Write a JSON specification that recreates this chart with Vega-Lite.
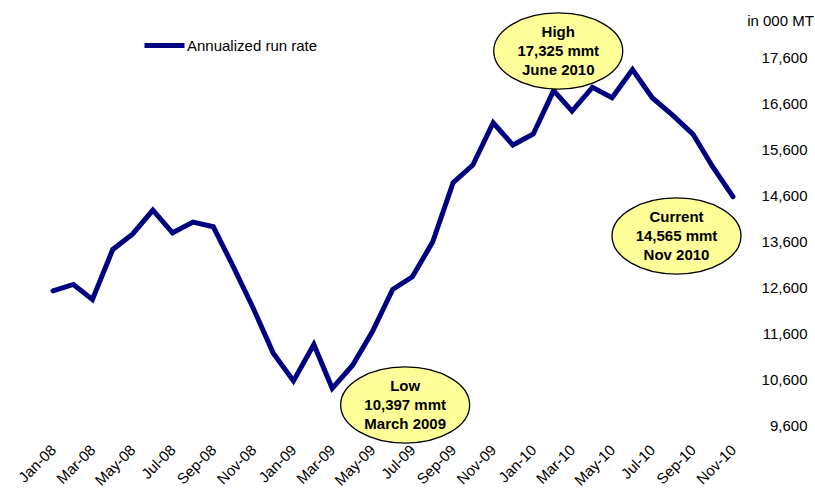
{
  "$schema": "https://vega.github.io/schema/vega-lite/v6.json",
  "autosize": {"type": "none"},
  "width": 680,
  "height": 368,
  "padding": {"left": 53, "top": 57, "right": 82, "bottom": 66},
  "background": "white",
  "config": {
    "view": {"stroke": null},
    "font": "Liberation Sans",
    "axis": {"labelFont": "Liberation Sans", "titleFont": "Liberation Sans", "labelColor": "#000", "titleColor": "#000", "grid": false, "domain": false, "ticks": false, "tickSize": 0},
    "legend": {"labelFont": "Liberation Sans", "labelColor": "#000"}
  },
  "resolve": {"axis": {"x": "independent", "y": "independent"}},
  "datasets": {
    "series": [
      {"date": "2008-01-01", "value": 12516},
      {"date": "2008-02-01", "value": 12655},
      {"date": "2008-03-01", "value": 12329},
      {"date": "2008-04-01", "value": 13417},
      {"date": "2008-05-01", "value": 13750},
      {"date": "2008-06-01", "value": 14272},
      {"date": "2008-07-01", "value": 13778},
      {"date": "2008-08-01", "value": 14011},
      {"date": "2008-09-01", "value": 13909},
      {"date": "2008-10-01", "value": 13054},
      {"date": "2008-11-01", "value": 12133},
      {"date": "2008-12-01", "value": 11168},
      {"date": "2009-01-01", "value": 10559},
      {"date": "2009-02-01", "value": 11350},
      {"date": "2009-03-01", "value": 10397},
      {"date": "2009-04-01", "value": 10900},
      {"date": "2009-05-01", "value": 11624},
      {"date": "2009-06-01", "value": 12547},
      {"date": "2009-07-01", "value": 12821},
      {"date": "2009-08-01", "value": 13582},
      {"date": "2009-09-01", "value": 14866},
      {"date": "2009-10-01", "value": 15251},
      {"date": "2009-11-01", "value": 16171},
      {"date": "2009-12-01", "value": 15686},
      {"date": "2010-01-01", "value": 15925},
      {"date": "2010-02-01", "value": 16870},
      {"date": "2010-03-01", "value": 16425},
      {"date": "2010-04-01", "value": 16940},
      {"date": "2010-05-01", "value": 16715},
      {"date": "2010-06-01", "value": 17325},
      {"date": "2010-07-01", "value": 16715},
      {"date": "2010-08-01", "value": 16338},
      {"date": "2010-09-01", "value": 15925},
      {"date": "2010-10-01", "value": 15214},
      {"date": "2010-11-01", "value": 14565}
    ],
    "notes": [
      {"date": "2010-02-08", "value": 17730, "label": "High\n17,325 mmt\nJune 2010"},
      {"date": "2009-06-20", "value": 10035, "label": "Low\n10,397 mmt\nMarch 2009"},
      {"date": "2010-08-07", "value": 13709, "label": "Current\n14,565 mmt\nNov 2010"}
    ]
  },
  "layer": [
    {
      "data": {"name": "series"},
      "transform": [{"calculate": "'Annualized run rate'", "as": "series"}],
      "mark": {"type": "line", "strokeWidth": 5, "strokeCap": "round", "strokeJoin": "miter"},
      "encoding": {
        "x": {
          "field": "date", "type": "temporal",
          "scale": {"type": "utc", "nice": false, "domain": [{"year": 2008, "month": 1, "date": 1, "utc": true}, {"year": 2010, "month": 11, "date": 1, "utc": true}]},
          "axis": {
            "title": null,
            "values": [
              {"year": 2008, "month": 1, "date": 1, "utc": true},
              {"year": 2008, "month": 3, "date": 1, "utc": true},
              {"year": 2008, "month": 5, "date": 1, "utc": true},
              {"year": 2008, "month": 7, "date": 1, "utc": true},
              {"year": 2008, "month": 9, "date": 1, "utc": true},
              {"year": 2008, "month": 11, "date": 1, "utc": true},
              {"year": 2009, "month": 1, "date": 1, "utc": true},
              {"year": 2009, "month": 3, "date": 1, "utc": true},
              {"year": 2009, "month": 5, "date": 1, "utc": true},
              {"year": 2009, "month": 7, "date": 1, "utc": true},
              {"year": 2009, "month": 9, "date": 1, "utc": true},
              {"year": 2009, "month": 11, "date": 1, "utc": true},
              {"year": 2010, "month": 1, "date": 1, "utc": true},
              {"year": 2010, "month": 3, "date": 1, "utc": true},
              {"year": 2010, "month": 5, "date": 1, "utc": true},
              {"year": 2010, "month": 7, "date": 1, "utc": true},
              {"year": 2010, "month": 9, "date": 1, "utc": true},
              {"year": 2010, "month": 11, "date": 1, "utc": true}
            ],
            "format": "%b-%y",
            "labelAngle": -45, "labelAlign": "right", "labelBaseline": "middle",
            "labelPadding": 22, "labelFontSize": 15, "labelFlush": false, "labelOverlap": false
          }
        },
        "y": {
          "field": "value", "type": "quantitative",
          "scale": {"domain": [9600, 17600], "nice": false, "zero": false},
          "axis": {
            "orient": "right", "values": [9600, 10600, 11600, 12600, 13600, 14600, 15600, 16600, 17600],
            "format": ",.0f", "labelAlign": "right", "labelPadding": 74, "labelFontSize": 15,
            "title": "in 000 MT", "titleAngle": 0, "titleX": 47, "titleY": -37,
            "titleAlign": "center", "titleBaseline": "middle", "titleFontWeight": "normal", "titleFontSize": 15
          }
        },
        "color": {
          "field": "series", "type": "nominal",
          "scale": {"range": ["#000080"]},
          "legend": {
            "title": null, "orient": "none", "legendX": 89, "legendY": -34,
            "symbolType": "stroke", "symbolSize": 1600, "symbolStrokeWidth": 5,
            "labelFontSize": 15, "labelOffset": 0, "padding": 0
          }
        }
      }
    },
    {
      "data": {"name": "notes"},
      "mark": {"type": "point", "shape": "M -1 0 A 1 0.59 0 1 1 1 0 A 1 0.59 0 1 1 -1 0 Z", "size": 16641, "filled": true, "fill": "#ffff99", "stroke": "#000", "strokeWidth": 1.3, "opacity": 1},
      "encoding": {
        "x": {"field": "date", "type": "temporal", "axis": null},
        "y": {"field": "value", "type": "quantitative", "axis": null}
      }
    },
    {
      "data": {"name": "notes"},
      "mark": {"type": "text", "lineBreak": "\n", "fontSize": 15, "fontWeight": "bold", "lineHeight": 19, "align": "center", "baseline": "middle", "dy": -19, "color": "#000"},
      "encoding": {
        "x": {"field": "date", "type": "temporal", "axis": null},
        "y": {"field": "value", "type": "quantitative", "axis": null},
        "text": {"field": "label"}
      }
    }
  ]
}
